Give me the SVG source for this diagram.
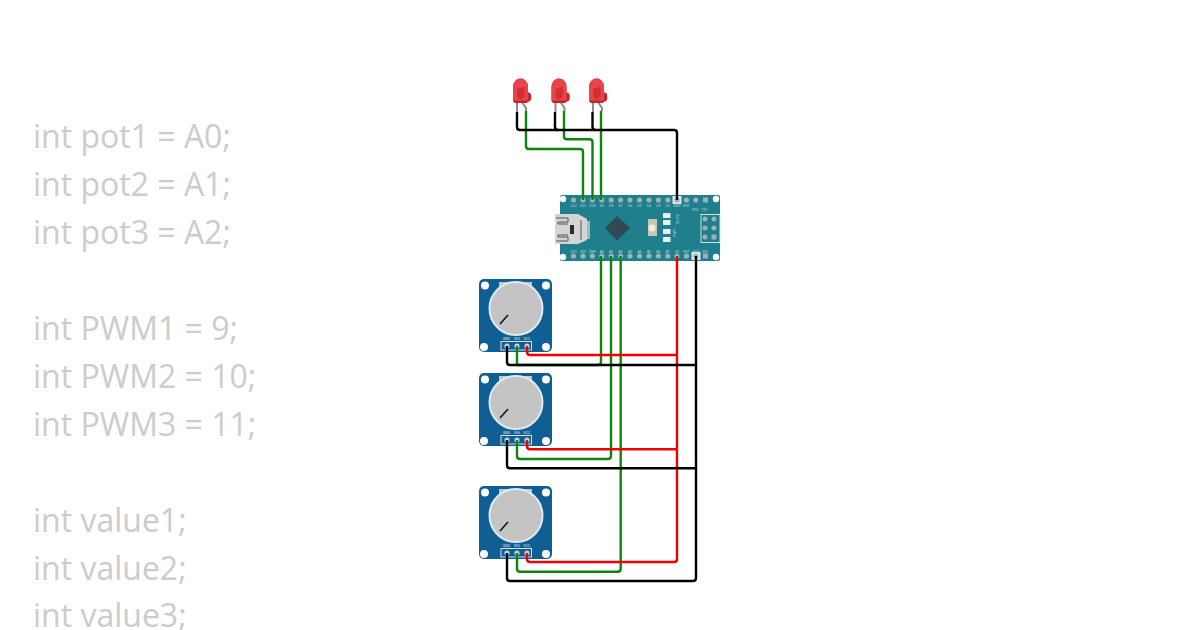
<svg xmlns="http://www.w3.org/2000/svg" width="1200" height="630" viewBox="0 0 1200 630">
<style>
.code{font-family:"Open Sans","Noto Sans",sans-serif;font-size:32px;fill:#cccccc}
.pl{font-family:"Liberation Sans",Arial,sans-serif;font-size:3.400px;fill:#c3dadd;text-anchor:middle}
.pw{font-family:"Liberation Sans",Arial,sans-serif;font-size:3.400px;fill:#e8f0f5;text-anchor:middle}
.w{fill:none;stroke-width:2.400;stroke-linejoin:round}
.k{stroke:#000}.g{stroke:#0c850c}.r{stroke:#f00000}
.lead{fill:none;stroke:#8c8c8c;stroke-width:2}
.hole{fill:#fff}
.pin{fill:#9fb1b3}
</style>
<defs>
<g id="led">
<path class="lead" d="M4.500 24V34"/><path class="lead" d="M9.500 24L13.500 30V33"/>
<path d="M0.500 23V9a7.500 8.500 0 0 1 15 0V14.500h0.500a2.800 4.500 0 0 1 0 9L14 25L2 25Z" fill="#c4262b"/>
<path d="M0.500 22.500V9a7.500 8.500 0 0 1 15 0V22.500Z" fill="#e8444a"/>
<path d="M4.500 11L12 8.500V19L7.500 21.500L4.500 19Z" fill="#cf2f35"/>
</g>
<g id="pot">
<rect x="0" y="0" width="73" height="73" rx="5" fill="#0f5f95"/>
<circle cx="6" cy="6.500" r="4" class="hole"/><circle cx="67" cy="6.500" r="4" class="hole"/><circle cx="5" cy="68" r="4" class="hole"/><circle cx="67" cy="68" r="4" class="hole"/>
<rect x="20" y="3" width="33" height="12" fill="#c6c6c6"/>
<circle cx="37" cy="29.500" r="26.500" fill="#c4c4c4" stroke="#dfe9f0" stroke-width="2"/>
<path d="M21 45L29 36" stroke="#111" stroke-width="1.500"/>
<rect x="22" y="62.500" width="30.500" height="8.500" fill="#0f5f95" stroke="#d8e2ea" stroke-width="1"/>
<circle cx="28" cy="67" r="2.600" fill="#c9ced2"/><circle cx="38" cy="67" r="2.600" fill="#c9ced2"/><circle cx="48" cy="67" r="2.600" fill="#c9ced2"/>
<text class="pw" x="27.500" y="60.500">GND</text><text class="pw" x="38" y="60.500">SIG</text><text class="pw" x="48" y="60.500">VCC</text>
</g>
</defs>
<g id="code-text">
<text class="code" x="33" y="148">int pot1 = A0;</text>
<text class="code" x="33" y="196">int pot2 = A1;</text>
<text class="code" x="33" y="244">int pot3 = A2;</text>
<text class="code" x="33" y="340">int PWM1 = 9;</text>
<text class="code" x="33" y="388">int PWM2 = 10;</text>
<text class="code" x="33" y="436">int PWM3 = 11;</text>
<text class="code" x="33" y="532">int value1;</text>
<text class="code" x="33" y="580">int value2;</text>
<text class="code" x="33" y="627">int value3;</text>
</g>
<g id="led1"><use href="#led" x="512.500" y="78"/></g>
<g id="led2"><use href="#led" x="551" y="78"/></g>
<g id="led3"><use href="#led" x="588.500" y="78"/></g>
<g id="nano">
<rect x="560" y="195" width="160" height="66" rx="2" fill="#1f7f8c"/>
<circle cx="563" cy="199" r="3.200" class="hole"/><circle cx="716" cy="199" r="3.200" class="hole"/><circle cx="563" cy="257" r="3.200" class="hole"/><circle cx="716" cy="257" r="3.200" class="hole"/>
<rect x="672.500" y="196" width="9" height="8" fill="#dfe8e8"/>
<rect x="691.500" y="252" width="9" height="8" fill="#dfe8e8"/>
<g class="pin">
<circle cx="573.500" cy="200" r="2.600"/><circle cx="583" cy="200" r="2.600"/><circle cx="592.400" cy="200" r="2.600"/><circle cx="601.800" cy="200" r="2.600"/><circle cx="611.200" cy="200" r="2.600"/><circle cx="620.600" cy="200" r="2.600"/><circle cx="630" cy="200" r="2.600"/><circle cx="639.500" cy="200" r="2.600"/><circle cx="649" cy="200" r="2.600"/><circle cx="658.400" cy="200" r="2.600"/><circle cx="667.800" cy="200" r="2.600"/><circle cx="677" cy="200" r="2.600"/><circle cx="686.500" cy="200" r="2.600"/><circle cx="695.800" cy="200" r="2.600"/><rect x="703" y="197.500" width="5" height="5"/>
<circle cx="573.500" cy="256" r="2.600"/><circle cx="583" cy="256" r="2.600"/><circle cx="592.400" cy="256" r="2.600"/><circle cx="601.800" cy="256" r="2.600"/><circle cx="611.200" cy="256" r="2.600"/><circle cx="620.600" cy="256" r="2.600"/><circle cx="630" cy="256" r="2.600"/><circle cx="639.500" cy="256" r="2.600"/><circle cx="649" cy="256" r="2.600"/><circle cx="658.400" cy="256" r="2.600"/><circle cx="667.800" cy="256" r="2.600"/><circle cx="677" cy="256" r="2.600"/><circle cx="686.500" cy="256" r="2.600"/><circle cx="695.800" cy="256" r="2.600"/><rect x="703" y="253.500" width="5" height="5"/>
</g>
<g class="pl">
<text x="573.500" y="206.500">D12</text><text x="583" y="206.500">D11</text><text x="592.400" y="206.500">D10</text><text x="601.800" y="206.500">D9</text><text x="611.200" y="206.500">D8</text><text x="620.600" y="206.500">D7</text><text x="630" y="206.500">D6</text><text x="639.500" y="206.500">D5</text><text x="649" y="206.500">D4</text><text x="658.400" y="206.500">D3</text><text x="667.800" y="206.500">D2</text><text x="677" y="206.500">GND</text><text x="686.500" y="206.500">RST</text>
<text x="695" y="210.500">RX0</text><text x="704.500" y="210.500">TX1</text>
<text x="573.500" y="252.500">D13</text><text x="583" y="252.500">3V3</text><text x="592.400" y="252.500">REF</text><text x="601.800" y="252.500">A0</text><text x="611.200" y="252.500">A1</text><text x="620.600" y="252.500">A2</text><text x="630" y="252.500">A3</text><text x="639.500" y="252.500">A4</text><text x="649" y="252.500">A5</text><text x="658.400" y="252.500">A6</text><text x="667.800" y="252.500">A7</text><text x="677" y="252.500">5V</text><text x="686.500" y="252.500">RST</text><text x="695.800" y="252.500">GND</text><text x="704.500" y="252.500">VIN</text>
</g>
<path d="M555 214H578L587 219V240L578 244H555Z" fill="#d4d4d4"/>
<rect x="587" y="221" width="3" height="18" fill="#9fbcc0"/>
<path d="M556 218H568V222H558V224H568M556 241H568V237H558V235H568" fill="none" stroke="#555" stroke-width="1"/>
<rect x="570" y="225" width="4" height="9" fill="#2a2a2a"/>
<path d="M581 220V240" stroke="#555" stroke-width="1"/>
<path d="M617 216L630 228L617 240.500L605 228Z" fill="#2f4a55"/>
<rect x="648" y="219" width="9" height="17" fill="#c3c9b8"/><circle cx="652" cy="228" r="3.500" fill="#f4ecd0"/>
<g fill="#e8eeee"><rect x="663" y="213" width="7.500" height="5"/><rect x="663" y="220" width="7.500" height="5"/><rect x="663" y="229" width="7.500" height="5"/><rect x="663" y="237" width="7.500" height="5"/></g>
<text class="pl" transform="rotate(-90 679 219)" x="679" y="219">TX RX</text>
<text class="pl" transform="rotate(-90 676 233)" x="676" y="233">PWR</text>
<rect x="701" y="214.500" width="19" height="28" fill="none" stroke="#cfe0e2" stroke-width="1"/>
<g class="pin"><circle cx="705" cy="219" r="2.500"/><circle cx="714" cy="219" r="2.500"/><circle cx="705" cy="228" r="2.500"/><circle cx="714" cy="228" r="2.500"/><circle cx="705" cy="237" r="2.500"/><rect x="711.500" y="234.500" width="5" height="5"/></g>
</g>
<g id="pot1"><use href="#pot" x="479" y="279"/></g>
<g id="pot2"><use href="#pot" x="479" y="373"/></g>
<g id="pot3"><use href="#pot" x="479" y="486"/></g>
<g id="connectors">
<path class="w g" d="M526 111V146Q526 149 529 149H580Q583 149 583 152V200"/>
<path class="w g" d="M564 111V136Q564 139.300 567 139.300H589.500Q592.500 139.300 592.500 142V200"/>
<path class="w g" d="M601 111V200"/>
<path class="w k" d="M517 112V127Q517 130 520 130H674Q677 130 677 133V200"/>
<path class="w k" d="M555 112V127Q555 130 558 130"/>
<path class="w k" d="M592.500 112V127Q592.500 130 595.500 130"/>
<path class="w g" d="M517 346V365H598Q601 365 601 362V256"/>
<path class="w g" d="M517 440V456Q517 459 520 459H608Q611 459 611 456V256"/>
<path class="w g" d="M517 553V568.700Q517 571.700 520 571.700H617.700Q620.700 571.700 620.700 568.700V256"/>
<path class="w r" d="M677 256V559Q677 562 674 562H530Q527 562 527 559V553"/>
<path class="w r" d="M527 346V352Q527 355 530 355H677"/>
<path class="w r" d="M527 440V446.300Q527 449.300 530 449.300H677"/>
<path class="w k" d="M696 256V578Q696 581 693 581H510Q507 581 507 578V553"/>
<path class="w k" d="M507 346V362Q507 365 510 365H696"/>
<path class="w k" d="M507 440V465.300Q507 468.300 510 468.300H696"/>
</g>
</svg>
